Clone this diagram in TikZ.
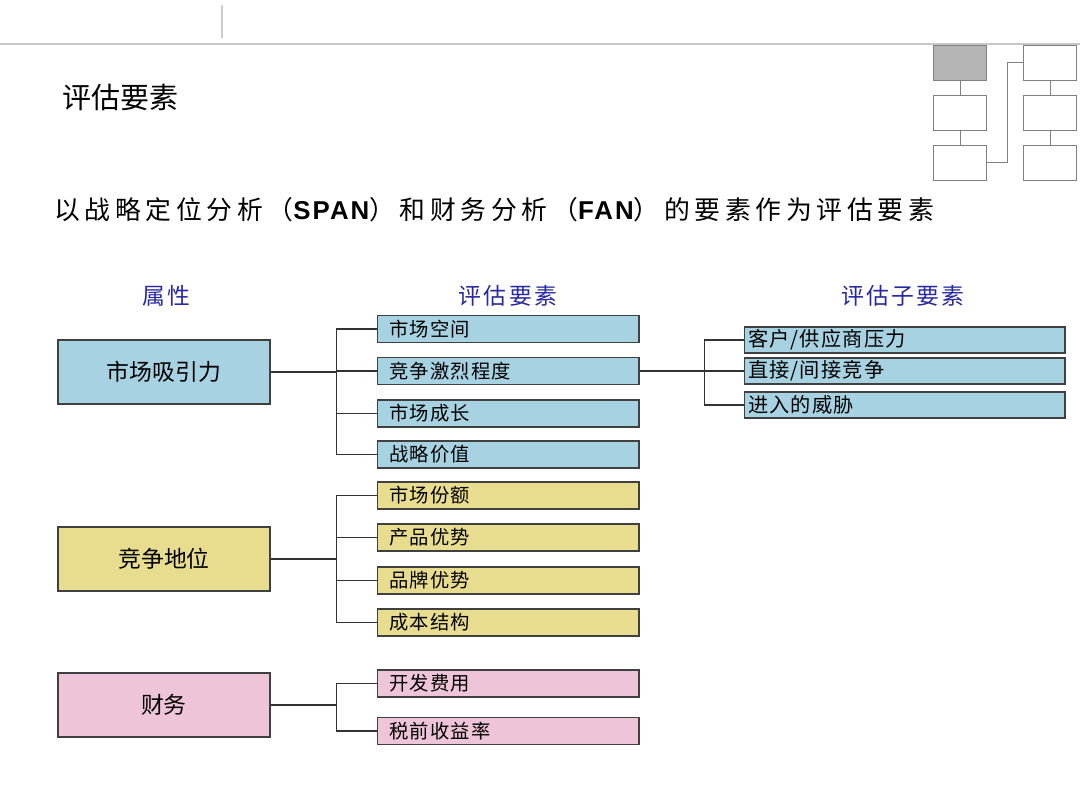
\documentclass[tikz,border=0pt]{standalone}
\usepackage{fontspec}
\setmainfont{Noto Sans CJK SC}
\newfontfamily\spacedcjk[LetterSpace=18]{Noto Sans CJK SC}
\newfontfamily\headcjk[LetterSpace=10]{Noto Sans CJK SC}
\newfontfamily\elemcjk[LetterSpace=6]{Noto Sans CJK SC}
\newfontfamily\latinbold[LetterSpace=8]{Liberation Sans}
\usepackage{xcolor}
\usetikzlibrary{positioning}
\definecolor{boxblue}{RGB}{166,210,226}
\definecolor{boxyellow}{RGB}{232,220,142}
\definecolor{boxpink}{RGB}{238,196,216}
\definecolor{headblue}{RGB}{40,40,160}
\definecolor{icongray}{RGB}{180,180,180}

\begin{document}
\begin{tikzpicture}[x=0.02cm,y=-0.02cm,
    attrbox/.style={draw=black!75,line width=0.6pt,minimum width=4.24cm,minimum height=1.28cm,font=\fontsize{13}{15}\selectfont},
    elembox/.style={draw=black!75,line width=0.6pt,inner xsep=0.25cm,inner ysep=0pt,text width=4.74cm,minimum height=0.54cm,align=left,font=\elemcjk\fontsize{11}{13}\selectfont},
    subbox/.style={draw=black!75,line width=0.6pt,inner xsep=0.08cm,inner ysep=0pt,text width=6.26cm,minimum height=0.52cm,align=left,font=\elemcjk\fontsize{11.5}{13}\selectfont},
    head/.style={text=headblue,font=\headcjk\fontsize{13}{15}\selectfont},
    link/.style={draw=black!80,line width=0.6pt},
    iconbox/.style={draw=black!50,line width=0.5pt}]
    \useasboundingbox (0,0) rectangle (1080,810);

    % page header
    \draw[black!22,line width=1.2pt] (0,44)--(1080,44);
    \draw[black!20,line width=0.6pt] (222,5)--(222,38);
    \node[anchor=west,font=\fontsize{16.5}{18}\selectfont] (title) at (56,97) {评估要素};
    \node[anchor=west,font=\spacedcjk\fontsize{14.7}{17}\selectfont] (subtitle) at (48,210)
        {以战略定位分析（{\latinbold\bfseries SPAN}）和财务分析（{\latinbold\bfseries FAN}）的要素作为评估要素};

    % icon
    \fill[icongray] (933,45) rectangle (986,80);
    \draw[iconbox] (933,45) rectangle (986,80);
    \draw[iconbox] (933,95) rectangle (986,130);
    \draw[iconbox] (933,145) rectangle (986,180);
    \draw[iconbox] (1023,45) rectangle (1076,80);
    \draw[iconbox] (1023,95) rectangle (1076,130);
    \draw[iconbox] (1023,145) rectangle (1076,180);
    \draw[iconbox] (960,80)--(960,95) (960,130)--(960,145);
    \draw[iconbox] (1050,80)--(1050,95) (1050,130)--(1050,145);
    \draw[iconbox] (986,162)--(1007,162)--(1007,62)--(1023,62);

    % column heads
    \node[head] (h1) at (166,296) {属性};
    \node[head] (h2) at (508,296) {评估要素};
    \node[head] (h3) at (903,296) {评估子要素};

    % attributes
    \node[attrbox,fill=boxblue] (a1) at (164,372) {市场吸引力};
    \node[attrbox,fill=boxyellow] (a2) at (164,559) {竞争地位};
    \node[attrbox,fill=boxpink] (a3) at (164,705) {财务};

    % elements
    \node[elembox,fill=boxblue] (e1) at (508,329) {市场空间};
    \node[elembox,fill=boxblue] (e2) at (508,371) {竞争激烈程度};
    \node[elembox,fill=boxblue] (e3) at (508,413.5) {市场成长};
    \node[elembox,fill=boxblue] (e4) at (508,454.5) {战略价值};
    \node[elembox,fill=boxyellow] (e5) at (508,495.5) {市场份额};
    \node[elembox,fill=boxyellow] (e6) at (508,537.5) {产品优势};
    \node[elembox,fill=boxyellow] (e7) at (508,580.5) {品牌优势};
    \node[elembox,fill=boxyellow] (e8) at (508,622.5) {成本结构};
    \node[elembox,fill=boxpink] (e9) at (508,683.5) {开发费用};
    \node[elembox,fill=boxpink] (e10) at (508,731) {税前收益率};

    % sub-elements
    \node[subbox,fill=boxblue] (s1) at (904.5,340) {客户/供应商压力};
    \node[subbox,fill=boxblue] (s2) at (904.5,371) {直接/间接竞争};
    \node[subbox,fill=boxblue] (s3) at (904.5,405) {进入的威胁};

    % connectors
    \foreach \n in {e1,e2,e3,e4}
        \draw[link] (\n.west) -- ++(-40,0) |- (a1.east);
    \foreach \n in {e5,e6,e7,e8}
        \draw[link] (\n.west) -- ++(-40,0) |- (a2.east);
    \foreach \n in {e9,e10}
        \draw[link] (\n.west) -- ++(-40,0) |- (a3.east);
    \foreach \n in {s1,s2,s3}
        \draw[link] (\n.west) -- ++(-39,0) |- (e2.east);
\end{tikzpicture}
\end{document}
